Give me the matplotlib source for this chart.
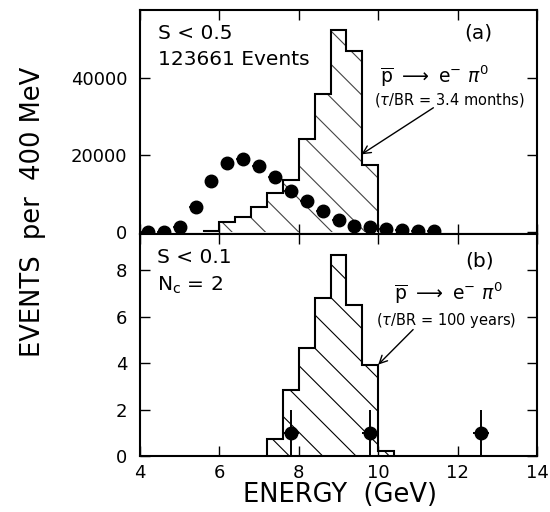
import numpy as np
import matplotlib
matplotlib.use("Agg")
import matplotlib.pyplot as plt

plt.rcParams['font.family'] = ['DejaVu Sans']
plt.rcParams['mathtext.fontset'] = 'dejavusans'
plt.rcParams['hatch.linewidth'] = 0.8

# ---- data ----
# (a) S < 0.5 : Monte Carlo p-bar -> e- pi0 (hatched) and data points
mc_edges_a = [5.6, 6.0, 6.4, 6.8, 7.2, 7.6, 8.0, 8.4, 8.8, 9.2, 9.6, 10.0]
mc_counts_a = [400, 2500, 3900, 6500, 10200, 13500, 24100, 36000, 52600, 47100, 17400]

data_e_a = [4.2, 4.6, 5.0, 5.4, 5.8, 6.2, 6.6, 7.0, 7.4, 7.8,
            8.2, 8.6, 9.0, 9.4, 9.8, 10.2, 10.6, 11.0, 11.4]
data_n_a = [0, 0, 1200, 6500, 13200, 18000, 19000, 17100, 14300, 10800,
            8000, 5400, 3200, 1700, 1200, 900, 600, 400, 200]

# (b) S < 0.1, Nc = 2
mc_edges_b = [7.2, 7.6, 8.0, 8.4, 8.8, 9.2, 9.6, 10.0, 10.4]
mc_counts_b = [0.75, 2.85, 4.65, 6.8, 8.65, 6.5, 3.9, 0.23]

data_e_b = [7.8, 9.8, 12.6]
data_n_b = [1, 1, 1]
data_err_b = [1, 1, 1]

W, H = 550, 512
fig = plt.figure(figsize=(W / 100, H / 100), dpi=100)
left, right = 140 / W, 537 / W
ax_a = fig.add_axes([left, 1 - 234 / H, right - left, 224 / H])
ax_b = fig.add_axes([left, 1 - 456 / H, right - left, 222 / H], sharex=ax_a)

for ax in (ax_a, ax_b):
    for s in ax.spines.values():
        s.set_linewidth(1.5)
    ax.tick_params(direction='in', top=True, right=True, length=7, width=1.0,
                   labelsize=13)
    ax.tick_params(axis='y', pad=9)
    ax.tick_params(axis='x', pad=6)

# ---- panel (a) ----
ax_a.stairs(mc_counts_a[1:], mc_edges_a[1:], fill=True, facecolor='none',
            edgecolor='#444444', hatch='\\', linewidth=0)
ax_a.stairs(mc_counts_a[:1], mc_edges_a[:2], fill=True, facecolor='#999999',
            linewidth=0)
ax_a.stairs(mc_counts_a, mc_edges_a, color='black', linewidth=1.5)
ax_a.errorbar(data_e_a, data_n_a, xerr=0.17, fmt='o', color='black',
              markersize=9, elinewidth=1.2, capsize=0, clip_on=False, zorder=5)
ax_a.set_ylim(-500, 57700)
ax_a.set_yticks([0, 20000, 40000])
ax_a.tick_params(labelbottom=False)

ax_a.text(0.045, 0.897, 'S < 0.5', transform=ax_a.transAxes, fontsize=14.5,
          va='center', ha='left')
ax_a.text(0.045, 0.777, '123661 Events', transform=ax_a.transAxes,
          fontsize=14.5, va='center', ha='left')
ax_a.text(0.851, 0.897, '(a)', transform=ax_a.transAxes, fontsize=14.5,
          va='center', ha='center')
ax_a.text(0.741, 0.705, r'$\overline{\mathrm{p}}\ \longrightarrow\ \mathrm{e}^{-}\ \pi^{0}$',
          transform=ax_a.transAxes, fontsize=13.5, va='center', ha='center')
ax_a.text(0.778, 0.596, r'($\tau$/BR = 3.4 months)', transform=ax_a.transAxes,
          fontsize=10.5, va='center', ha='center')
ax_a.annotate('', xy=(9.58, 20200), xytext=(11.39, 32300),
              arrowprops=dict(arrowstyle='->', lw=1.0, color='black',
                              mutation_scale=14, shrinkA=0, shrinkB=0))

# ---- panel (b) ----
ax_b.stairs(mc_counts_b, mc_edges_b, fill=True, facecolor='none',
            edgecolor='black', hatch='\\', linewidth=0)
ax_b.stairs(mc_counts_b, mc_edges_b, color='black', linewidth=1.5)
ax_b.errorbar(data_e_b, data_n_b, yerr=data_err_b, xerr=0.2, fmt='o',
              color='black', markersize=9, elinewidth=1.4, capsize=0, zorder=5)
ax_b.set_ylim(0, 9.55)
ax_b.set_yticks([0, 2, 4, 6, 8])
ax_b.set_xlim(4, 14)
ax_b.set_xticks([4, 6, 8, 10, 12, 14])

ax_b.text(0.043, 0.896, 'S < 0.1', transform=ax_b.transAxes, fontsize=14.5,
          va='center', ha='left')
ax_b.text(0.043, 0.77, r'N$_{\mathrm{c}}$ = 2', transform=ax_b.transAxes,
          fontsize=14.5, va='center', ha='left')
ax_b.text(0.856, 0.88, '(b)', transform=ax_b.transAxes, fontsize=14.5,
          va='center', ha='center')
ax_b.text(0.778, 0.735, r'$\overline{\mathrm{p}}\ \longrightarrow\ \mathrm{e}^{-}\ \pi^{0}$',
          transform=ax_b.transAxes, fontsize=13.5, va='center', ha='center')
ax_b.text(0.771, 0.61, r'($\tau$/BR = 100 years)', transform=ax_b.transAxes,
          fontsize=10.5, va='center', ha='center')
ax_b.annotate('', xy=(10.0, 3.93), xytext=(10.88, 5.44),
              arrowprops=dict(arrowstyle='->', lw=1.0, color='black',
                              mutation_scale=14, shrinkA=0, shrinkB=0))

# axis titles
fig.text(33 / W, 1 - 212 / H, 'EVENTS  per  400 MeV', rotation=90,
         fontsize=18.5, ha='center', va='center')
fig.text(340 / W, 1 - 495 / H, 'ENERGY  (GeV)', fontsize=18.5,
         ha='center', va='center')

fig.savefig('out.png', dpi=100)
